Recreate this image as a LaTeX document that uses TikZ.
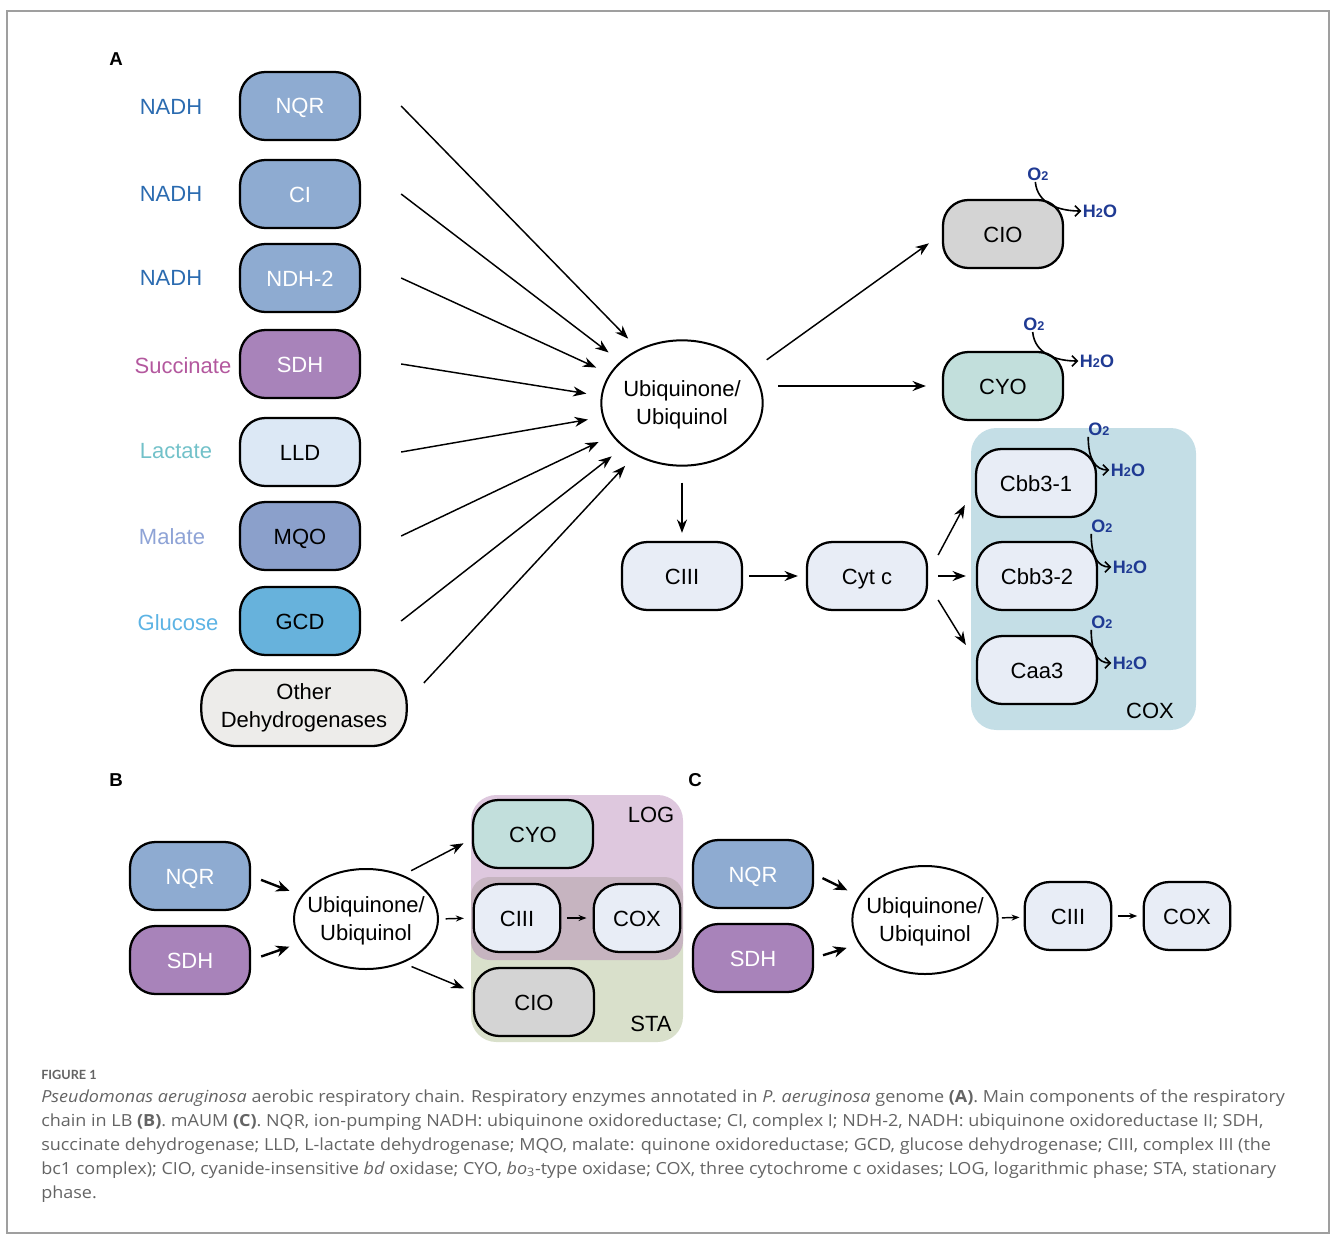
\documentclass[tikz,border=0pt]{standalone}
\usepackage{fontspec}
\setmainfont{Liberation Sans}
\newfontfamily\capfont[FakeStretch=1.08]{Open Sans}
\newfontfamily\figfont{Lato}
\usetikzlibrary{arrows.meta,shapes.geometric}
\definecolor{nadhc}{HTML}{2B6BB0}
\definecolor{succc}{HTML}{B3589E}
\definecolor{lactc}{HTML}{72C1C9}
\definecolor{malc}{HTML}{8EA3D6}
\definecolor{glucc}{HTML}{5CB3E4}
\definecolor{nqrc}{HTML}{8EABD1}
\definecolor{sdhc}{HTML}{A883BA}
\definecolor{lldc}{HTML}{DCE8F5}
\definecolor{mqoc}{HTML}{8BA0CB}
\definecolor{gcdc}{HTML}{67B2DC}
\definecolor{otherc}{HTML}{EDECEA}
\definecolor{cioc}{HTML}{D4D4D4}
\definecolor{cyoc}{HTML}{C2DFDC}
\definecolor{lightc}{HTML}{E8EDF6}
\definecolor{coxbg}{HTML}{C4DEE6}
\definecolor{logbg}{HTML}{DEC8DE}
\definecolor{stabg}{HTML}{D9E0CB}
\definecolor{bandbg}{HTML}{C6B4C0}
\definecolor{oxc}{HTML}{1F3A93}
\definecolor{capgray}{HTML}{646464}
\newcommand{\smdig}[1]{{\fontsize{9.5}{9.5}\selectfont #1}}

\begin{document}
\begin{tikzpicture}[x=0.75pt,y=-0.75pt,font=\fontsize{16.5}{21}\selectfont,
  box/.style={draw,line width=1.7pt,rounded corners=19pt,minimum width=90pt,minimum height=51pt,inner sep=0pt},
  enz/.style={box,text height=12pt,text depth=0pt},
  pool/.style={draw,ellipse,line width=1.5pt,align=center,inner xsep=-8pt,inner ysep=0pt,text depth=0pt},
  panel/.style={font=\fontsize{14}{14}\selectfont\bfseries},
  oxlab/.style={text=oxc,inner sep=1pt,font=\fontsize{13.5}{14}\selectfont\bfseries},
  arr/.style={-{Stealth[length=10pt,width=7.5pt]},line width=1.1pt},
  arrb/.style={-{Stealth[length=10pt,width=8.5pt]},line width=1.8pt},
  arrs/.style={-{Stealth[length=6pt,width=4.5pt]},line width=1.1pt},
  oxy/.style={-{Straight Barb[length=4pt,width=8pt]},line width=1.2pt}]
\useasboundingbox (0,0) rectangle (1331,1234);
\draw[gray!75,line width=1pt] (7,11) rectangle (1329,1233);

\node[panel] (labA) at (116,59) {A};
\node[text=nadhc] (nadh1) at (171,107) {NADH};
\node[text=nadhc] (nadh2) at (171,194) {NADH};
\node[text=nadhc] (nadh3) at (171,278) {NADH};
\node[text=succc] (succ) at (183,366) {Succinate};
\node[text=lactc] (lact) at (176,451) {Lactate};
\node[text=malc] (mal) at (172,537) {Malate};
\node[text=glucc] (gluc) at (178,623) {Glucose};
\node[enz,fill=nqrc,text=white] (nqr) at (300,106) {NQR};
\node[enz,fill=nqrc,text=white] (ci) at (300,194) {CI};
\node[enz,fill=nqrc,text=white] (ndh) at (300,278) {NDH-2};
\node[enz,fill=sdhc,text=white] (sdh) at (300,364) {SDH};
\node[enz,fill=lldc] (lld) at (300,452) {LLD};
\node[enz,fill=mqoc] (mqo) at (300,536) {MQO};
\node[enz,fill=gcdc] (gcd) at (300,621) {GCD};
\node[box,fill=otherc,minimum width=154pt,minimum height=57pt,rounded corners=26pt,align=center] (other) at (304,708) {Other\\Dehydrogenases};
\node[pool,minimum width=121pt,minimum height=94pt] (ubq) at (682,403) {Ubiquinone/\\Ubiquinol};

\draw[arr,shorten >=11pt] ([xshift=30pt]nqr.east) -- (ubq.129);
\draw[arr,shorten >=11pt] ([xshift=30pt]ci.east) -- (ubq.146);
\draw[arr,shorten >=11pt] ([xshift=30pt]ndh.east) -- (ubq.158);
\draw[arr,shorten >=11pt] ([xshift=30pt]sdh.east) -- (ubq.175);
\draw[arr,shorten >=11pt] ([xshift=30pt]lld.east) -- (ubq.190);
\draw[arr,shorten >=11pt] ([xshift=30pt]mqo.east) -- (ubq.205);
\draw[arr,shorten >=11pt] ([xshift=30pt]gcd.east) -- (ubq.217);
\draw[arr,shorten >=11pt] ([shift={(16,-25)}]other.east) -- (ubq.228);

\node[enz,fill=cioc] (cio) at (1003,234) {CIO};
\node[enz,fill=cyoc] (cyo) at (1003,386) {CYO};
\fill[coxbg,rounded corners=19pt] (971,428) rectangle (1196,730);
\node (coxlab) at (1150,711) {COX};
\node[enz,fill=lightc] (cbb1) at (1036,483) {Cbb3-1};
\node[enz,fill=lightc] (cbb2) at (1037,576) {Cbb3-2};
\node[enz,fill=lightc] (caa3) at (1037,670) {Caa3};
\node[enz,fill=lightc] (ciii) at (682,576) {CIII};
\node[enz,fill=lightc] (cytc) at (867,576) {Cyt c};

\draw[arr,shorten <=13.5pt,shorten >=12pt] (ubq.25) -- (cio.west);
\draw[arr,shorten <=11pt,shorten >=12pt] (ubq.east |- cyo) -- (cyo.west);
\draw[arr,shorten <=12pt,shorten >=6pt] (ubq.south) -- (ciii.north);
\draw[arr,shorten <=4.5pt,shorten >=6pt] (ciii.east) -- (cytc.west);
\draw[arr] ([shift={(10,-21)}]cytc.east) -- ([shift={(-10,22)}]cbb1.west);
\draw[arr,shorten <=7.5pt,shorten >=7.5pt] (cytc.east) -- (cbb2.west);
\draw[arr] ([shift={(10,24)}]cytc.east) -- ([shift={(-10,-25)}]caa3.west);

\node[oxlab] (o2a) at (1038,174) {O\smdig{2}};
\node[oxlab] (h2oa) at (1100,211) {H\smdig{2}O};
\node[oxlab] (o2b) at (1034,324) {O\smdig{2}};
\node[oxlab] (h2ob) at (1097,361) {H\smdig{2}O};
\node[oxlab] (o2c) at (1099,429) {O\smdig{2}};
\node[oxlab] (h2oc) at (1128,470) {H\smdig{2}O};
\node[oxlab] (o2d) at (1102,526) {O\smdig{2}};
\node[oxlab] (h2od) at (1130,567) {H\smdig{2}O};
\node[oxlab] (o2e) at (1102,622) {O\smdig{2}};
\node[oxlab] (h2oe) at (1130,663) {H\smdig{2}O};
\draw[oxy] ([xshift=-2pt]o2a.south) .. controls +(2,22) and +(-22,0) .. (h2oa.west);
\draw[oxy] ([xshift=-1pt]o2b.south) .. controls +(2,22) and +(-22,0) .. (h2ob.west);
\draw[oxy] ([xshift=1pt]o2c.south west) .. controls +(0,22) and +(-14,0) .. (h2oc.west);
\draw[oxy] ([xshift=1pt]o2d.south west) .. controls +(0,22) and +(-14,0) .. (h2od.west);
\draw[oxy] ([xshift=1pt]o2e.south west) .. controls +(0,22) and +(-14,0) .. (h2oe.west);

\node[panel] (labB) at (116,780) {B};
\fill[logbg,rounded corners=19pt] (471,795) rectangle (683,930);
\fill[stabg,rounded corners=19pt] (471,910) rectangle (683,1042);
\fill[bandbg,rounded corners=14pt] (471,877) rectangle (683,960);
\node (logl) at (651,815) {LOG};
\node (stal) at (651,1024) {STA};
\node[enz,fill=nqrc,text=white] (bnqr) at (190,876) {NQR};
\node[enz,fill=sdhc,text=white] (bsdh) at (190,960) {SDH};
\node[pool,minimum width=108pt,minimum height=75pt] (bubq) at (366,919) {Ubiquinone/\\Ubiquinol};
\node[enz,fill=cyoc] (bcyo) at (533,834) {CYO};
\node[enz,fill=lightc,minimum width=65pt] (bciii) at (517,918) {CIII};
\node[enz,fill=lightc,minimum width=65pt] (bcox) at (637,918) {COX};
\node[enz,fill=cioc] (bcio) at (534,1002) {CIO};
\draw[arrb,shorten <=8pt,shorten >=9.5pt] (bnqr.east) -- (bubq.160);
\draw[arrb,shorten <=8pt,shorten >=9.5pt] (bsdh.east) -- (bubq.200);
\draw[arr,shorten <=7pt,shorten >=7pt] (bubq.50) -- ([yshift=-3.75pt]bcyo.west);
\draw[arrs,shorten <=5pt,shorten >=6.5pt] (bubq.east) -- (bciii.west);
\draw[arr,shorten <=7pt,shorten >=7pt] (bubq.-50) -- ([yshift=7.5pt]bcio.west);
\draw[arrs,shorten <=4pt,shorten >=4.5pt] (bciii.east) -- (bcox.west);

\node[panel] (labC) at (695,780) {C};
\node[enz,fill=nqrc,text=white] (cnqr) at (753,874) {NQR};
\node[enz,fill=sdhc,text=white] (csdh) at (753,958) {SDH};
\node[pool,minimum width=109pt,minimum height=81pt] (cubq) at (925,920) {Ubiquinone/\\Ubiquinol};
\node[enz,fill=lightc,minimum width=65pt] (cciii) at (1068,916) {CIII};
\node[enz,fill=lightc,minimum width=65pt] (ccox) at (1187,916) {COX};
\draw[arrb,shorten <=7pt,shorten >=9.5pt] (cnqr.east) -- (cubq.160);
\draw[arrb,shorten <=7pt,shorten >=9.5pt] (csdh.east) -- (cubq.200);
\draw[arrs,shorten <=2.5pt,shorten >=3pt] (cubq) -- (cciii);
\draw[arrs,shorten <=4pt,shorten >=4pt] (cciii) -- (ccox);

\node[anchor=west,inner sep=0pt,text=capgray,font=\figfont\bfseries\fontsize{9.5}{10}\selectfont] (figl) at (41,1075) {FIGURE 1};
\node[anchor=north west,inner sep=0pt,align=left,text=capgray,font=\capfont\fontsize{12.5}{18}\selectfont] (cap) at (41,1089) {\textit{Pseudomonas aeruginosa} aerobic respiratory chain. Respiratory enzymes annotated in \textit{P. aeruginosa} genome \textbf{(A)}. Main components of the respiratory\\
chain in LB \textbf{(B)}. mAUM \textbf{(C)}. NQR, ion-pumping NADH: ubiquinone oxidoreductase; CI, complex I; NDH-2, NADH: ubiquinone oxidoreductase II; SDH,\\
succinate dehydrogenase; LLD, L-lactate dehydrogenase; MQO, malate: quinone oxidoreductase; GCD, glucose dehydrogenase; CIII, complex III (the\\
bc1 complex); CIO, cyanide-insensitive \textit{bd} oxidase; CYO, \textit{bo}\textsubscript{3}-type oxidase; COX, three cytochrome c oxidases; LOG, logarithmic phase; STA, stationary\\
phase.};
\end{tikzpicture}
\end{document}
